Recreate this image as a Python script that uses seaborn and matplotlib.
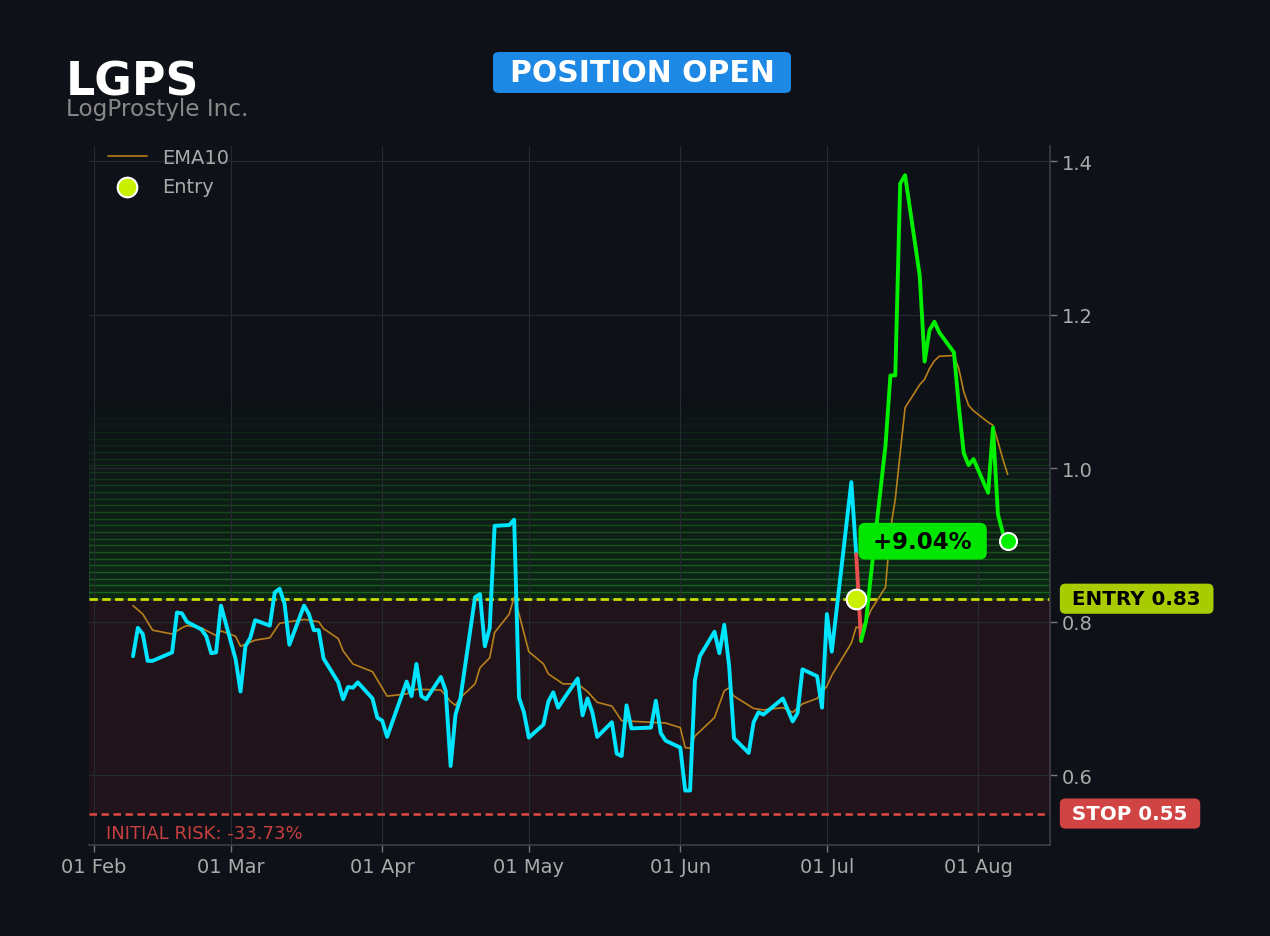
import pandas as pd
import numpy as np
import matplotlib
matplotlib.use("Agg")
import matplotlib.pyplot as plt
import matplotlib.dates as mdates
from matplotlib.patches import FancyBboxPatch
import seaborn as sns

# ---- data ----
ticker = "LGPS"
company = "LogProstyle Inc."
entry_price = 0.83
stop_price = 0.55
entry_date = "2026-07-07"

price_dates = [
    "2026-02-09", "2026-02-10", "2026-02-11", "2026-02-12", "2026-02-13",
    "2026-02-17", "2026-02-18", "2026-02-19", "2026-02-20",
    "2026-02-23", "2026-02-24", "2026-02-25", "2026-02-26", "2026-02-27",
    "2026-03-02", "2026-03-03", "2026-03-04", "2026-03-05", "2026-03-06",
    "2026-03-09", "2026-03-10", "2026-03-11", "2026-03-12", "2026-03-13",
    "2026-03-16", "2026-03-17", "2026-03-18", "2026-03-19", "2026-03-20",
    "2026-03-23", "2026-03-24", "2026-03-25", "2026-03-26", "2026-03-27",
    "2026-03-30", "2026-03-31", "2026-04-01", "2026-04-02",
    "2026-04-06", "2026-04-07", "2026-04-08", "2026-04-09", "2026-04-10",
    "2026-04-13", "2026-04-14", "2026-04-15", "2026-04-16", "2026-04-17",
    "2026-04-20", "2026-04-21", "2026-04-22", "2026-04-23", "2026-04-24",
    "2026-04-27", "2026-04-28", "2026-04-29", "2026-04-30", "2026-05-01",
    "2026-05-04", "2026-05-05", "2026-05-06", "2026-05-07", "2026-05-08",
    "2026-05-11", "2026-05-12", "2026-05-13", "2026-05-14", "2026-05-15",
    "2026-05-18", "2026-05-19", "2026-05-20", "2026-05-21", "2026-05-22",
    "2026-05-26", "2026-05-27", "2026-05-28", "2026-05-29",
    "2026-06-01", "2026-06-02", "2026-06-03", "2026-06-04", "2026-06-05",
    "2026-06-08", "2026-06-09", "2026-06-10", "2026-06-11", "2026-06-12",
    "2026-06-15", "2026-06-16", "2026-06-17", "2026-06-18",
    "2026-06-22", "2026-06-23", "2026-06-24", "2026-06-25", "2026-06-26",
    "2026-06-29", "2026-06-30", "2026-07-01", "2026-07-02",
    "2026-07-06", "2026-07-07", "2026-07-08", "2026-07-09", "2026-07-10",
    "2026-07-13", "2026-07-14", "2026-07-15", "2026-07-16", "2026-07-17",
    "2026-07-20", "2026-07-21", "2026-07-22", "2026-07-23", "2026-07-24",
    "2026-07-27", "2026-07-28", "2026-07-29", "2026-07-30", "2026-07-31",
    "2026-08-03", "2026-08-04", "2026-08-05", "2026-08-06", "2026-08-07",
]
price_values = [
    0.755, 0.792, 0.784, 0.749, 0.749,
    0.760, 0.812, 0.811, 0.800,
    0.790, 0.781, 0.759, 0.760, 0.821,
    0.751, 0.709, 0.768, 0.779, 0.802,
    0.795, 0.838, 0.843, 0.824, 0.770,
    0.821, 0.810, 0.789, 0.789, 0.752,
    0.721, 0.699, 0.715, 0.714, 0.721,
    0.700, 0.675, 0.671, 0.650,
    0.722, 0.703, 0.745, 0.703, 0.699,
    0.728, 0.710, 0.612, 0.679, 0.700,
    0.832, 0.836, 0.768, 0.792, 0.925,
    0.926, 0.933, 0.701, 0.682, 0.649,
    0.666, 0.696, 0.708, 0.688, 0.698,
    0.726, 0.678, 0.700, 0.682, 0.650,
    0.669, 0.628, 0.625, 0.691, 0.661,
    0.662, 0.697, 0.655, 0.645,
    0.636, 0.580, 0.580, 0.724, 0.755,
    0.787, 0.759, 0.796, 0.742, 0.648,
    0.629, 0.669, 0.682, 0.679,
    0.700, 0.685, 0.670, 0.681, 0.738,
    0.729, 0.688, 0.810, 0.761,
    0.982, 0.888, 0.775, 0.800, 0.860,
    1.030, 1.121, 1.121, 1.371, 1.382,
    1.251, 1.139, 1.180, 1.191, 1.177,
    1.151, 1.081, 1.020, 1.004, 1.012,
    0.968, 1.053, 0.940, 0.916, 0.905,
]

ema_dates = [
    "2026-02-09", "2026-02-11", "2026-02-13", "2026-02-17", "2026-02-19",
    "2026-02-20", "2026-02-23", "2026-02-26", "2026-02-27", "2026-03-02",
    "2026-03-03", "2026-03-06", "2026-03-09", "2026-03-11", "2026-03-13",
    "2026-03-16", "2026-03-19", "2026-03-20", "2026-03-23", "2026-03-24",
    "2026-03-26", "2026-03-30", "2026-04-02", "2026-04-06", "2026-04-08",
    "2026-04-13", "2026-04-15", "2026-04-16", "2026-04-17", "2026-04-20",
    "2026-04-21", "2026-04-23", "2026-04-24", "2026-04-27", "2026-04-28",
    "2026-04-29", "2026-05-01", "2026-05-04", "2026-05-05", "2026-05-08",
    "2026-05-11", "2026-05-13", "2026-05-15", "2026-05-18", "2026-05-20",
    "2026-05-26", "2026-05-29", "2026-06-01", "2026-06-02", "2026-06-03",
    "2026-06-04", "2026-06-08", "2026-06-10", "2026-06-11", "2026-06-12",
    "2026-06-16", "2026-06-18", "2026-06-22", "2026-06-24", "2026-06-26",
    "2026-06-29", "2026-07-01", "2026-07-02", "2026-07-06", "2026-07-07",
    "2026-07-08", "2026-07-09", "2026-07-10", "2026-07-13", "2026-07-14",
    "2026-07-15", "2026-07-16", "2026-07-17", "2026-07-20", "2026-07-21",
    "2026-07-22", "2026-07-23", "2026-07-24", "2026-07-27", "2026-07-28",
    "2026-07-29", "2026-07-30", "2026-07-31", "2026-08-03", "2026-08-04",
    "2026-08-05", "2026-08-06", "2026-08-07",
]
ema_values = [
    0.821, 0.810, 0.789, 0.784, 0.792,
    0.795, 0.792, 0.782, 0.788, 0.781,
    0.768, 0.776, 0.779, 0.798, 0.800,
    0.803, 0.800, 0.791, 0.778, 0.762,
    0.745, 0.735, 0.703, 0.706, 0.712,
    0.711, 0.696, 0.691, 0.701, 0.719,
    0.740, 0.753, 0.786, 0.810, 0.832,
    0.810, 0.761, 0.745, 0.732, 0.719,
    0.719, 0.709, 0.695, 0.690, 0.671,
    0.669, 0.668, 0.662, 0.636, 0.635,
    0.651, 0.675, 0.710, 0.714, 0.703,
    0.687, 0.685, 0.688, 0.682, 0.693,
    0.700, 0.716, 0.730, 0.772, 0.793,
    0.792, 0.800, 0.815, 0.845, 0.920,
    0.960, 1.020, 1.079, 1.109, 1.116,
    1.130, 1.140, 1.146, 1.147, 1.130,
    1.100, 1.082, 1.075, 1.060, 1.056,
    1.035, 1.012, 0.992,
]

# ---- frames ----
df = pd.DataFrame({"date": pd.to_datetime(price_dates), "price": price_values})
ema = pd.DataFrame({"date": pd.to_datetime(ema_dates), "ema": ema_values})
t_entry = pd.Timestamp(entry_date)

pre = df[df["date"] <= t_entry]
post = df[df["date"] >= t_entry]
t_low = post.loc[post["price"].idxmin(), "date"]
red_seg = post[post["date"] <= t_low]
green_seg = post[post["date"] >= t_low]

last = df.iloc[-1]
pnl = (last["price"] / entry_price - 1) * 100
risk = (stop_price / entry_price - 1) * 100

# ---- style ----
BG = "#0e1117"
sns.set_theme(style="dark", rc={
    "figure.facecolor": BG,
    "axes.facecolor": BG,
    "axes.edgecolor": "#3a3d45",
    "grid.color": "#262a31",
    "text.color": "#aaaaaa",
    "xtick.color": "#aaaaaa",
    "ytick.color": "#aaaaaa",
})
plt.rcParams["font.family"] = ["DejaVu Sans"]

fig = plt.figure(figsize=(12.7, 9.37), dpi=100)
ax = fig.add_axes([0.0701, 0.0971, 0.7567, 0.7460])

# zones: red risk band and a fading green band above entry
ax.axhspan(stop_price, entry_price, color="#ff4444", alpha=0.08, lw=0, zorder=0)
n_bands = 30
band_h = 0.0087
for i in range(n_bands):
    k = 1 - i / n_bands
    ax.axhspan(entry_price + i * band_h, entry_price + (i + 1) * band_h,
               facecolor=(0.0, 1.0, 0.0, 0.09 * k),
               edgecolor=(0.2, 0.75, 0.2, 0.24 * k), lw=1.0, zorder=0)

ax.axhline(entry_price, color="#c8e000", lw=2.0, ls=(0, (3.0, 1.6)), zorder=2)
ax.axhline(stop_price, color="#e04848", lw=1.8, ls=(0, (3.0, 1.8)), zorder=2)

# lines
sns.lineplot(data=ema, x="date", y="ema", color="#b8801a", lw=1.2, ax=ax,
             label="EMA10", zorder=3)
sns.lineplot(data=pre, x="date", y="price", color="#00e5ff", lw=2.8, ax=ax,
             legend=False, zorder=4)
sns.lineplot(data=red_seg, x="date", y="price", color="#e85050", lw=2.8, ax=ax,
             legend=False, zorder=4)
sns.lineplot(data=green_seg, x="date", y="price", color="#00f000", lw=2.8, ax=ax,
             legend=False, zorder=4)

ax.scatter([t_entry], [entry_price], s=200, color="#c8f000", edgecolor="white",
           linewidth=1.5, zorder=6, label="Entry")
ax.scatter([last["date"]], [last["price"]], s=150, color="#00f000", edgecolor="white",
           linewidth=1.5, zorder=6)

# annotations
ax.annotate(f" {pnl:+.2f}% ", xy=(last["date"], last["price"]), xytext=(-20, 0),
            textcoords="offset points", ha="right", va="center",
            fontsize=16.5, fontweight="bold", color="black",
            bbox=dict(boxstyle="round,pad=0.3", fc="#00e600", ec="none"), zorder=7)

ytrans = ax.get_yaxis_transform()
ax.text(1.016, entry_price, " ENTRY 0.83 ", transform=ytrans, ha="left", va="center",
        fontsize=14.3, fontweight="bold", color="black",
        bbox=dict(boxstyle="round,pad=0.28", fc="#a8cc00", ec="none"), clip_on=False)
ax.text(1.016, stop_price, " STOP 0.55 ", transform=ytrans, ha="left", va="center",
        fontsize=14.3, fontweight="bold", color="white",
        bbox=dict(boxstyle="round,pad=0.28", fc="#d04444", ec="none"), clip_on=False)
ax.text(0.018, stop_price - 0.014, f"INITIAL RISK: {risk:.2f}%", transform=ytrans,
        ha="left", va="top", fontsize=13, color="#c84040")

# axes
ax.set_xlim(pd.Timestamp("2026-01-31"), pd.Timestamp("2026-08-15 16:00"))
ax.set_ylim(0.509, 1.42)
ax.xaxis.set_major_locator(mdates.MonthLocator())
ax.xaxis.set_major_formatter(mdates.DateFormatter("%d %b"))
ax.yaxis.tick_right()
ax.set_yticks([0.6, 0.8, 1.0, 1.2, 1.4])
ax.tick_params(axis="both", labelsize=14, length=5, width=1, color="#777777",
               bottom=True, right=True, left=False)
ax.set_xlabel("")
ax.set_ylabel("")
ax.grid(True, color="#262a31", lw=0.8)
for side in ["top", "left"]:
    ax.spines[side].set_visible(False)
for side in ["right", "bottom"]:
    ax.spines[side].set_color("#3a3d45")

leg = ax.legend(loc="upper left", frameon=False, fontsize=14, borderpad=0.1,
                borderaxespad=0, bbox_to_anchor=(17 / 961, 1.0))
for t in leg.get_texts():
    t.set_color("#aaaaaa")

# header
fig.text(0.052, 0.8986, ticker, fontsize=33, fontweight="bold", color="white",
         va="baseline")
fig.text(0.052, 0.876, company, fontsize=16.7, color="#888888", va="baseline")
badge = FancyBboxPatch((493 / 1270, 1 - 94 / 937), 298 / 1270, 41 / 937,
                       boxstyle="round,pad=0,rounding_size=0.005",
                       transform=fig.transFigure, fc="#1e88e5", ec="none")
fig.patches.append(badge)
fig.text(642 / 1270, 1 - 73.5 / 937, "POSITION OPEN", fontsize=21.5, fontweight="bold",
         color="white", ha="center", va="center")

fig.savefig("out.png", dpi=100, facecolor=BG)
